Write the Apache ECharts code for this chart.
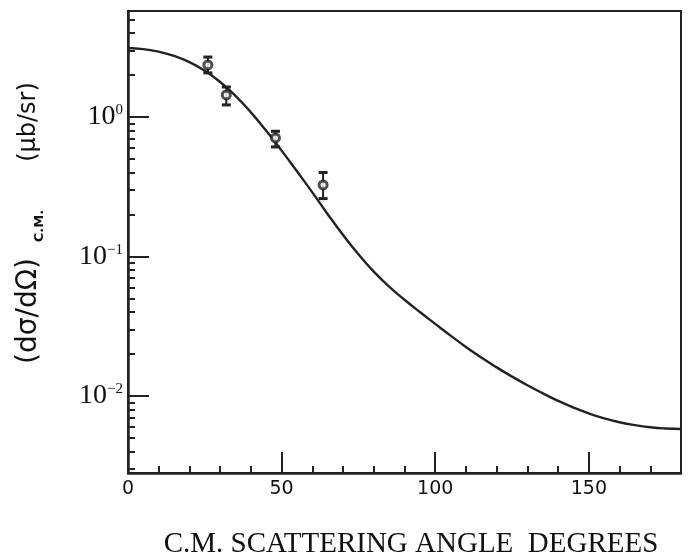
<!DOCTYPE html>
<html>
<head>
<meta charset="utf-8">
<script src="https://cdn.jsdelivr.net/npm/echarts@6/dist/echarts.min.js"></script>
<style>html,body{margin:0;padding:0;background:#fff;}#c{width:692px;height:559px;}</style>
</head>
<body>
<div id="c"></div>
<script>
// Theory curve (C.M. angle in degrees, cross section in µb/sr)
const curveAngles = [0,5,10,15,20,25,30,35,40,45,50,55,60,65,70,75,80,85,90,95,100,105,110,115,120,125,130,135,140,145,150,155,160,165,170,175,180];
const curveValues = [3.119,3.062,2.938,2.742,2.472,2.143,1.782,1.416,1.079,0.796,0.574,0.408,0.288,0.201,0.1426,0.1038,0.07798,0.06081,0.04898,0.03999,0.03289,0.0271,0.02244,0.01884,0.01603,0.01377,0.01194,0.01045,0.009226,0.00826,0.007499,0.006918,0.006486,0.00618,0.00597,0.005848,0.005794];
// Measured points with error bars
const pointAngles = [26, 32, 48, 63.5];
const pointValues = [2.36, 1.44, 0.707, 0.326];
const pointLow    = [2.07, 1.22, 0.61, 0.26];
const pointHigh   = [2.69, 1.64, 0.79, 0.40];
// Axis ticks
const xLabels = [0, 50, 100, 150];
const xMajorTicks = [50, 100, 150];
const xMinorTicks = [10,20,30,40,60,70,80,90,110,120,130,140,160,170];
const yMajorTicks = [0.01, 0.1, 1];
const yMinorTicks = [0.003,0.004,0.005,0.006,0.007,0.008,0.009,0.02,0.03,0.04,0.05,0.06,0.07,0.08,0.09,0.2,0.3,0.4,0.5,0.6,0.7,0.8,0.9,2,3,4,5];
const yMin = 0.002805, yMax = 5.75;

const ink = '#222';
const chart = echarts.init(document.getElementById('c'));
const curve = curveAngles.map((a, i) => [a, curveValues[i]]);
const pts = pointAngles.map((a, i) => [a, pointValues[i]]);
const bars = pointAngles.map((a, i) => [a, pointLow[i], pointHigh[i]]);

chart.setOption({
  animation: false,
  grid: { left: 128, right: 11, top: 11, bottom: 86, show: true, borderColor: ink, borderWidth: 2, backgroundColor: 'transparent' },
  xAxis: [
    { type: 'value', min: 0, max: 180, position: 'bottom',
      axisLine: { show: true, onZero: false, lineStyle: { color: ink, width: 2.5 } },
      axisTick: { show: true, inside: true, length: 21, customValues: xMajorTicks, lineStyle: { color: ink, width: 2 } },
      axisLabel: { show: true, customValues: xLabels, margin: 7, color: '#111', fontFamily: 'DejaVu Sans', fontSize: 19 },
      splitLine: { show: false } },
    { type: 'value', min: 0, max: 180, position: 'bottom',
      axisLine: { show: false, onZero: false },
      axisTick: { show: true, inside: true, length: 7, customValues: xMinorTicks, lineStyle: { color: ink, width: 2 } },
      axisLabel: { show: false }, splitLine: { show: false } }
  ],
  yAxis: [
    { type: 'log', logBase: 10, min: yMin, max: yMax, position: 'left',
      axisLine: { show: true, onZero: false, lineStyle: { color: ink, width: 2.5 } },
      axisTick: { show: true, inside: true, length: 21, customValues: yMajorTicks, lineStyle: { color: ink, width: 2 } },
      axisLabel: { show: true, customValues: yMajorTicks, margin: 5, color: ink,
        formatter: v => { const e = Math.round(Math.log10(v)); return '{b|10}{s|' + (e < 0 ? '−' + (-e) : e) + '}'; },
        rich: {
          b: { fontFamily: 'Liberation Serif', fontSize: 28, lineHeight: 28, color: '#111' },
          s: { fontFamily: 'Liberation Serif', fontSize: 15, lineHeight: 15, verticalAlign: 'top', color: '#111' }
        } },
      splitLine: { show: false } },
    { type: 'log', logBase: 10, min: yMin, max: yMax, position: 'left',
      axisLine: { show: false, onZero: false },
      axisTick: { show: true, inside: true, length: 7, customValues: yMinorTicks, lineStyle: { color: ink, width: 2 } },
      axisLabel: { show: false }, splitLine: { show: false } }
  ],
  series: [
    { type: 'line', data: curve, smooth: true, showSymbol: false, symbol: 'none', xAxisIndex: 0, yAxisIndex: 0,
      lineStyle: { color: ink, width: 2.4 }, z: 2 },
    { type: 'custom', xAxisIndex: 0, yAxisIndex: 0, data: bars, z: 3,
      renderItem: (params, api) => {
        const x = api.value(0);
        const lo = api.coord([x, api.value(1)]);
        const hi = api.coord([x, api.value(2)]);
        const w = 4.5;
        return { type: 'group', children: [
          { type: 'line', shape: { x1: lo[0], y1: lo[1], x2: hi[0], y2: hi[1] }, style: { stroke: ink, lineWidth: 2 } },
          { type: 'line', shape: { x1: lo[0] - w, y1: lo[1], x2: lo[0] + w, y2: lo[1] }, style: { stroke: ink, lineWidth: 3 } },
          { type: 'line', shape: { x1: hi[0] - w, y1: hi[1], x2: hi[0] + w, y2: hi[1] }, style: { stroke: ink, lineWidth: 3 } }
        ] };
      } },
    { type: 'scatter', xAxisIndex: 0, yAxisIndex: 0, data: pts, symbol: 'circle', symbolSize: 8, z: 4,
      itemStyle: { color: '#fff', borderColor: ink, borderWidth: 3 } }
  ],
  graphic: [
    { type: 'text', x: 411, y: 544, style: { text: 'C.M. SCATTERING ANGLE  DEGREES', align: 'center', verticalAlign: 'middle', fontFamily: 'Liberation Serif', fontSize: 29, fill: '#111' } },
    { type: 'text', x: 29, y: 311, rotation: Math.PI / 2, style: { text: '(dσ/dΩ)', align: 'center', verticalAlign: 'middle', fontFamily: 'DejaVu Sans', fontSize: 28, fill: '#111' } },
    { type: 'text', x: 40, y: 226, rotation: Math.PI / 2, style: { text: 'C.M.', align: 'center', verticalAlign: 'middle', fontFamily: 'DejaVu Sans', fontWeight: 'bold', fontSize: 13, fill: '#111' } },
    { type: 'text', x: 29, y: 122, rotation: Math.PI / 2, style: { text: '(μb/sr)', align: 'center', verticalAlign: 'middle', fontFamily: 'DejaVu Sans', fontSize: 24, fill: '#111' } }
  ]
});
</script>
</body>
</html>
